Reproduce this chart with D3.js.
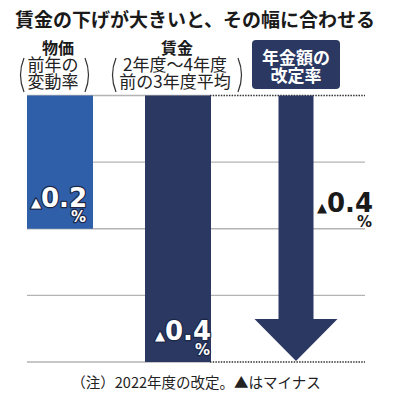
<!DOCTYPE html>
<html><head><meta charset="utf-8">
<script src="https://cdn.jsdelivr.net/npm/d3@7"></script>
<style>
html,body{margin:0;padding:0;background:#fff;}
svg{display:block;font-family:"Noto Sans CJK JP","Noto Sans",sans-serif;}
</style></head>
<body>
<svg id="c" width="399" height="396"></svg>
<script>
const title = "賃金の下げが大きいと、その幅に合わせる";
const categories = ["物価", "賃金", "年金額"];
const values = [-0.2, -0.4, -0.4];
const valueLabels = ["0.2", "0.4", "0.4"];
const subLabels = [["前年の", "変動率"], ["2年度～4年度", "前の3年度平均"], ["年金額の", "改定率"]];
const gridTicks = [0, -0.1, -0.2, -0.3, -0.4];
const note = "（注）2022年度の改定。▲はマイナス";

const navy = "#2a3862", blue = "#2f5fa9", grid = "#b4b4b4";
const svg = d3.select("#c");
const y = d3.scaleLinear().domain([0, -0.4]).range([95.5, 362]);
const x = d3.scalePoint().domain(categories).range([60, 296]);
const barW = 66, shaftW = 35, headW = 83, headH = 42;
const left = 27, right = 365, splitX = 210;

// title
svg.append("text").attr("x", 195).attr("y", 27).attr("text-anchor", "middle")
  .attr("font-size", 19).attr("font-weight", 700).attr("fill", "#1a1a1a").text(title);

// gridlines
gridTicks.forEach(t => {
  const gy = y(t);
  if (t === 0 || t === -0.4) {
    svg.append("line").attr("x1", left).attr("x2", splitX).attr("y1", gy).attr("y2", gy)
      .attr("stroke", grid).attr("stroke-width", 1.3);
    svg.append("line").attr("x1", splitX).attr("x2", right).attr("y1", gy).attr("y2", gy)
      .attr("stroke", "#333").attr("stroke-width", 1.3).attr("stroke-dasharray", "1.5,1.2");
  } else {
    svg.append("line").attr("x1", left).attr("x2", right).attr("y1", gy).attr("y2", gy)
      .attr("stroke", grid).attr("stroke-width", 1.3);
  }
});

// bars
[0, 1].forEach(i => {
  svg.append("rect").attr("x", x(categories[i]) - barW / 2).attr("y", y(0))
    .attr("width", barW).attr("height", y(values[i]) - y(0))
    .attr("fill", i === 0 ? blue : navy);
});

// arrow
const ac = x(categories[2]), ay = y(values[2]) - 1;
svg.append("path").attr("fill", navy).attr("d", [
  "M", ac - shaftW / 2, y(0), "L", ac + shaftW / 2, y(0),
  "L", ac + shaftW / 2, ay - headH, "L", ac + headW / 2, ay - headH,
  "L", ac, ay, "L", ac - headW / 2, ay - headH,
  "L", ac - shaftW / 2, ay - headH, "Z"].join(" "));

// header labels
function paren(px, dir) {
  const top = 58, bot = 92, mid = (top + bot) / 2;
  svg.append("path").attr("fill", "none").attr("stroke", "#333").attr("stroke-width", 1.2)
    .attr("d", `M${px},${top} Q${px - dir * 7},${mid} ${px},${bot}`);
}
function header(cx, hx, head, lines) {
  const t = svg.append("text").attr("x", hx).attr("y", 54).attr("text-anchor", "middle").attr("fill", "#222");
  t.append("tspan").attr("x", hx).attr("font-size", 16).attr("font-weight", 700).attr("fill", "#1a1a1a").text(head);
  lines.forEach((s, j) => t.append("tspan").attr("x", cx).attr("dy", 17).attr("font-size", 17).text(s));
}
header(53, 58, categories[0], subLabels[0]);
paren(24, 1); paren(85, -1);
header(175, 177, categories[1], subLabels[1]);
paren(116, 1); paren(238, -1);
// box
svg.append("rect").attr("x", 252).attr("y", 40).attr("width", 88).attr("height", 49)
  .attr("rx", 4).attr("fill", navy);
const bt = svg.append("text").attr("x", 296).attr("y", 63.5).attr("text-anchor", "middle")
  .attr("font-size", 17).attr("font-weight", 700).attr("fill", "#fff");
subLabels[2].forEach((s, j) => bt.append("tspan").attr("x", 296).attr("dy", j ? 18.5 : 0).text(s));

// value labels
const labelPos = [[87, 207, true], [211, 340, true], [373, 212, false]];
labelPos.forEach(([rx, by, inside], i) => {
  const t = svg.append("text").attr("x", rx).attr("y", by).attr("text-anchor", "end")
    .attr("font-family", "'DejaVu Sans', sans-serif").attr("font-weight", 700)
    .attr("fill", inside ? "#fff" : "#1a1a1a");
  if (inside) t.attr("stroke", "#1c2748").attr("stroke-width", 2.5)
    .attr("paint-order", "stroke").attr("stroke-linejoin", "round");
  t.append("tspan").attr("font-size", 13).text("▲");
  t.append("tspan").attr("font-size", 26).text(valueLabels[i]);
  t.append("tspan").attr("x", rx - 1).attr("dy", 15).attr("font-size", 15).text("%");
});

// note
svg.append("text").attr("x", 196).attr("y", 388).attr("text-anchor", "middle")
  .attr("font-size", 14.5).attr("fill", "#222").text(note);
</script>
</body></html>
